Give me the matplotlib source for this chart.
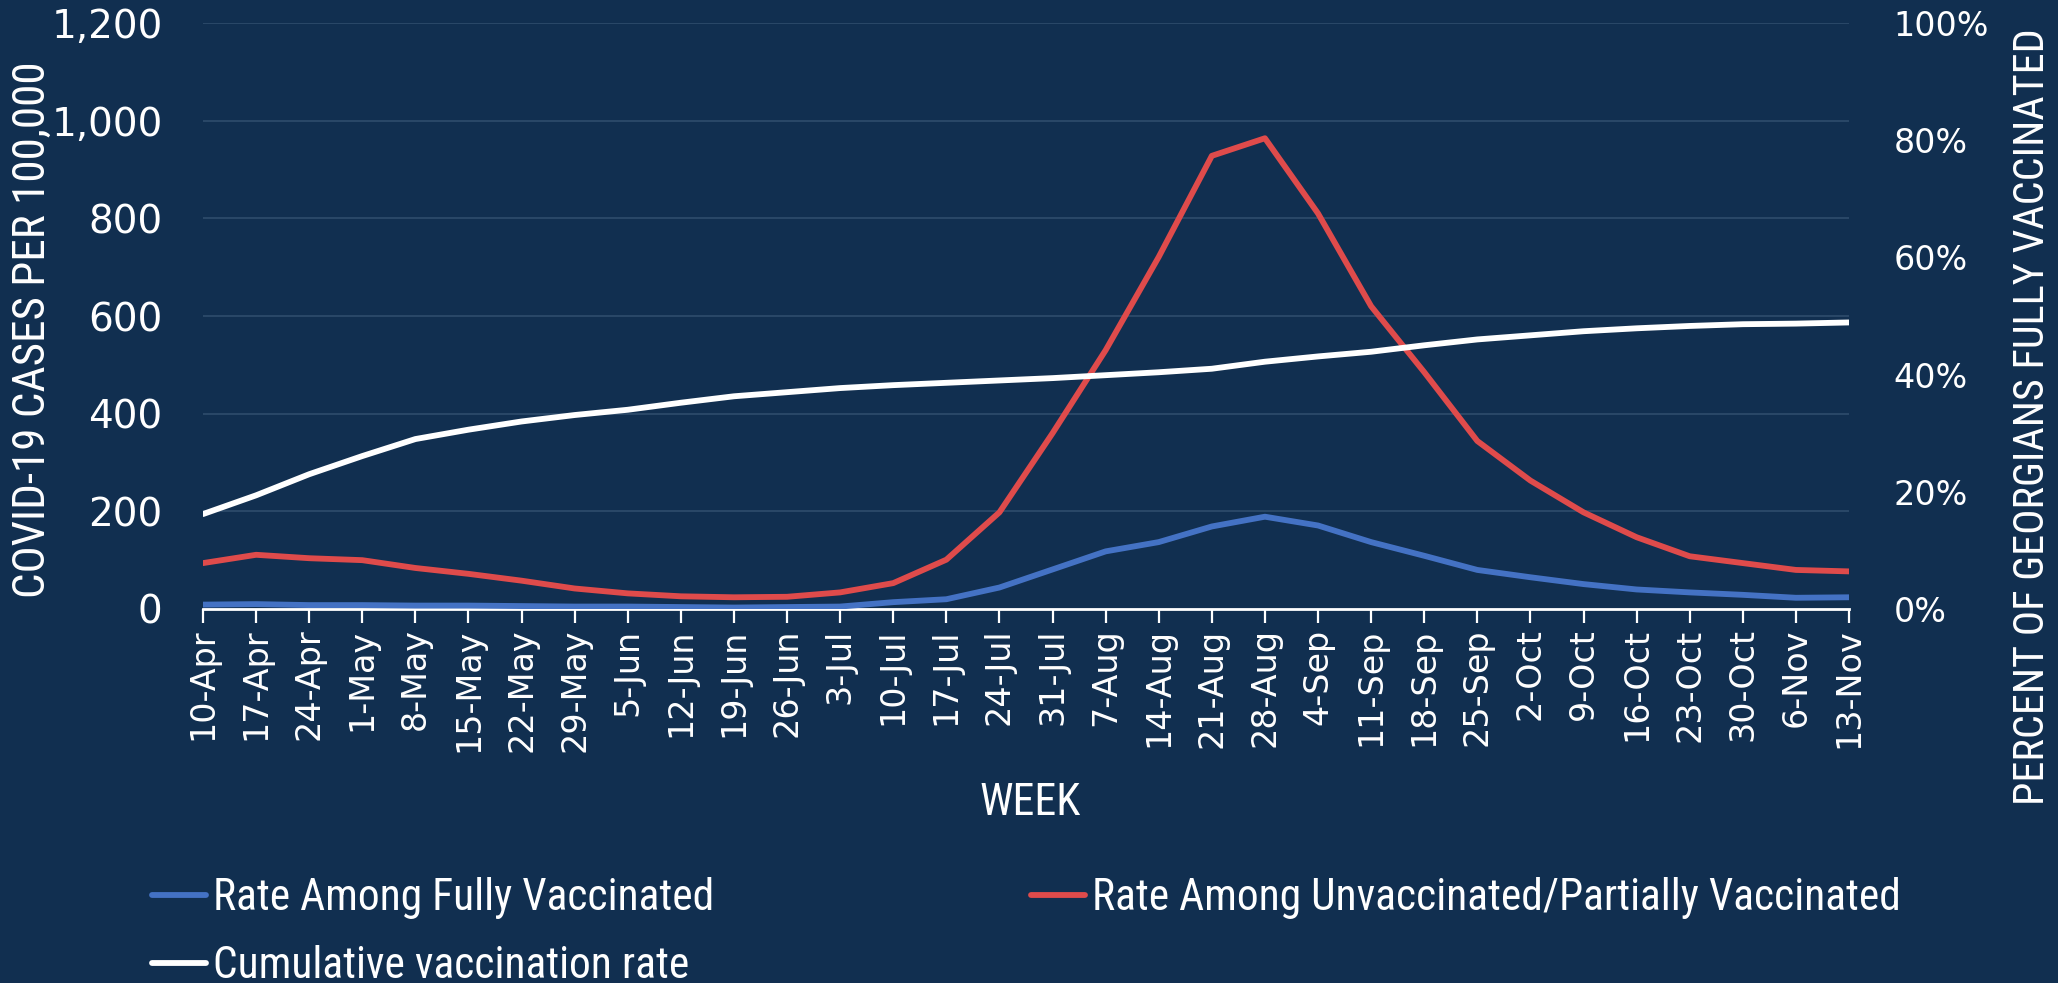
import os
import matplotlib
matplotlib.use("Agg")
import matplotlib.pyplot as plt
import matplotlib.font_manager as fm
from matplotlib.ticker import FuncFormatter, PercentFormatter

weeks = ["10-Apr", "17-Apr", "24-Apr", "1-May", "8-May", "15-May", "22-May", "29-May",
         "5-Jun", "12-Jun", "19-Jun", "26-Jun", "3-Jul", "10-Jul", "17-Jul", "24-Jul",
         "31-Jul", "7-Aug", "14-Aug", "21-Aug", "28-Aug", "4-Sep", "11-Sep", "18-Sep",
         "25-Sep", "2-Oct", "9-Oct", "16-Oct", "23-Oct", "30-Oct", "6-Nov", "13-Nov"]

rate_fully_vaccinated = [9, 10, 8, 8, 7, 7, 6, 5, 5, 4, 3, 4, 5, 14, 20, 44,
                         81, 118, 137, 169, 189, 171, 137, 109, 80, 65, 51, 40,
                         34, 29, 23, 24]

rate_unvaccinated = [94, 111, 104, 100, 84, 72, 58, 42, 32, 26, 24, 25, 34, 53, 101, 198,
                     360, 530, 721, 928, 964, 810, 620, 485, 344, 263, 198, 147,
                     108, 94, 80, 77]

cumulative_vaccination = [16.2, 19.4, 23.0, 26.1, 29.0, 30.6, 32.0, 33.1, 34.0, 35.2,
                          36.3, 37.0, 37.7, 38.2, 38.6, 39.0, 39.4, 39.9, 40.4, 41.0,
                          42.2, 43.1, 43.9, 45.0, 46.0, 46.7, 47.4, 47.9, 48.3, 48.6,
                          48.7, 48.9]

left_ticks = [0, 200, 400, 600, 800, 1000, 1200]
right_ticks = [0, 20, 40, 60, 80, 100]

BG = "#112f50"
GRID = "#2c4a6a"
BLUE = "#4472c4"
RED = "#df4b4b"
WHITE = "#ffffff"


def find_condensed():
    entries = fm.fontManager.ttflist

    def regular(e):
        w = e.weight
        return e.style == "normal" and (w in (400, "normal", "regular", "book"))

    prefs = ["Roboto Condensed", "Liberation Sans Narrow", "Arial Narrow",
             "Open Sans Condensed", "Noto Sans Condensed", "DejaVu Sans Condensed"]
    for p in prefs:
        for e in entries:
            if e.name == p and regular(e):
                return e.fname
    for want in ("condensed", "semi-condensed", "extra-condensed"):
        for e in entries:
            if isinstance(e.stretch, str) and e.stretch == want and regular(e):
                return e.fname
    for e in entries:
        fn = os.path.basename(e.fname).lower()
        if ("condensed" in fn or "narrow" in fn) and not any(
                k in fn for k in ("bold", "italic", "light", "thin", "black", "medium", "oblique")):
            return e.fname
    return None


cond_path = find_condensed()


def cond_fp(size):
    if cond_path:
        return fm.FontProperties(fname=cond_path, size=size)
    return fm.FontProperties(family="DejaVu Sans", size=size)


plt.rcParams["font.family"] = ["DejaVu Sans"]

fig = plt.figure(figsize=(20.58, 9.83), dpi=100, facecolor=BG)
W, H = 2058, 983
renderer = fig.canvas.get_renderer()


def fit_size(s, target_px, base=31.0, cap=34.0):
    t = fig.text(0, 0, s, fontproperties=cond_fp(base))
    w = t.get_window_extent(renderer).width
    t.remove()
    return min(cap, base * target_px / w)


ax = fig.add_axes([203 / W, 1 - 609 / H, (1849 - 203) / W, (609 - 23) / H])
ax.set_facecolor(BG)

x = list(range(len(weeks)))
lw = 4.2
l_blue, = ax.plot(x, rate_fully_vaccinated, color=BLUE, lw=lw, solid_capstyle="round",
                  solid_joinstyle="round", label="Rate Among Fully Vaccinated", zorder=3)
l_red, = ax.plot(x, rate_unvaccinated, color=RED, lw=lw, solid_capstyle="round",
                 solid_joinstyle="round", label="Rate Among Unvaccinated/Partially Vaccinated", zorder=3)

ax.set_xlim(0, len(weeks) - 1)
ax.set_ylim(0, 1200)
ax.set_yticks(left_ticks)
ax.yaxis.set_major_formatter(FuncFormatter(lambda v, p: f"{int(v):,}"))
ax.set_xticks(x)
ax.set_xticklabels(weeks, rotation=90)
ax.grid(axis="y", color=GRID, lw=1.3)
ax.set_axisbelow(True)
for s in ["top", "left", "right"]:
    ax.spines[s].set_visible(False)
ax.spines["bottom"].set_color(WHITE)
ax.spines["bottom"].set_linewidth(2.0)
ax.tick_params(axis="x", colors=WHITE, length=10, width=1.6, labelsize=24, pad=4)
ax.tick_params(axis="y", colors=WHITE, length=0, labelsize=28, pad=29)

ax2 = ax.twinx()
l_white, = ax2.plot(x, cumulative_vaccination, color=WHITE, lw=lw, solid_capstyle="round",
                    solid_joinstyle="round", label="Cumulative vaccination rate", zorder=4)
ax2.set_ylim(0, 100)
ax2.set_yticks(right_ticks)
ax2.yaxis.set_major_formatter(PercentFormatter(decimals=0))
for s in ["top", "left", "right", "bottom"]:
    ax2.spines[s].set_visible(False)
ax2.tick_params(axis="y", colors=WHITE, length=0, labelsize=24, pad=32)

# axis titles
ylab = "COVID-19 CASES PER 100,000"
y2lab = "PERCENT OF GEORGIANS FULLY VACCINATED"
fig.text(33 / W, 1 - 330 / H, ylab, rotation=90, color=WHITE,
         fontproperties=cond_fp(fit_size(ylab, 535)), ha="center", va="center")
fig.text(2032 / W, 1 - 417 / H, y2lab, rotation=90, color=WHITE,
         fontproperties=cond_fp(fit_size(y2lab, 775)), ha="center", va="center")
fig.text(1030 / W, 1 - 803 / H, "WEEK", color=WHITE,
         fontproperties=cond_fp(fit_size("WEEK", 101)), ha="center", va="center")

# legend
leg_size = fit_size(l_blue.get_label(), 501)
leg_kw = dict(frameon=False, handlelength=1.25, handletextpad=0.15, labelcolor=WHITE,
              prop=cond_fp(leg_size), borderaxespad=0, borderpad=0)
fig.legend([l_blue, l_white], [l_blue.get_label(), l_white.get_label()],
           loc="upper left", bbox_to_anchor=(152 / W, 1 - 877 / H),
           labelspacing=0.6, **leg_kw)
fig.legend([l_red], [l_red.get_label()], loc="upper left",
           bbox_to_anchor=(1031 / W, 1 - 877 / H), **leg_kw)

fig.savefig("out.png", dpi=100, facecolor=BG)
